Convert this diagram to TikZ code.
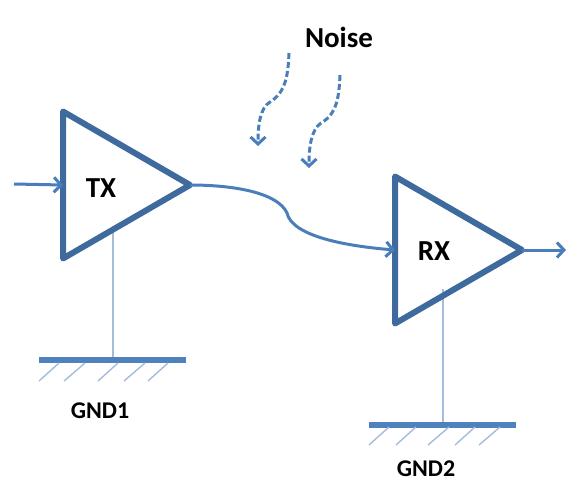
\documentclass[tikz,border=0pt]{standalone}
\usepackage{fontspec}
\setmainfont{Carlito}
\usetikzlibrary{shapes.geometric,arrows.meta}
\definecolor{ampblue}{HTML}{3F6A9E}
\definecolor{wireblue}{HTML}{4A7EBB}
\definecolor{groundblue}{HTML}{4F81BD}
\definecolor{hatchblue}{HTML}{A5BCDC}
\tikzset{
  amp/.style={draw=ampblue,line width=6pt,line join=round,shape=isosceles triangle,
    isosceles triangle stretches,minimum width=147pt,minimum height=127pt,
    inner sep=0pt,outer sep=0pt,anchor=apex},
  wire/.style={draw=wireblue,line width=3pt,-{Straight Barb[length=7pt,width=15pt,line width=3pt]}},
  noisewire/.style={wire,dash pattern=on 6pt off 3pt},
  stub/.style={draw=hatchblue,line width=1.4pt},
  ground/.style={draw=groundblue,line width=5.5pt},
  hatch/.style={draw=hatchblue,line width=1.4pt},
  lbl/.style={font=\bfseries\fontsize{#1}{#1}\selectfont,text=black,inner sep=0pt}
}
\begin{document}
\begin{tikzpicture}[x=1pt,y=-1pt]
  \useasboundingbox (0,0) rectangle (572,501);
  % Ground stubs
  \coordinate (txstub) at (113,226);
  \coordinate (gnd1) at (113,360);
  \coordinate (rxstub) at (443,289);
  \coordinate (gnd2) at (443,425);
  \draw[stub] (txstub) -- (gnd1);
  \draw[stub] (rxstub) -- (gnd2);

  % Amplifiers
  \node[amp] (tx) at (190,185) {};
  \node[amp] (rx) at (522,250) {};
  \node[lbl=29] (txlabel) at (101,188) {TX};
  \node[lbl=29] (rxlabel) at (434,251) {RX};

  % Ground bars
  \coordinate (gnd1l) at (39,360);
  \coordinate (gnd1r) at (186,360);
  \coordinate (gnd2l) at (369,425);
  \coordinate (gnd2r) at (516,425);
  \draw[ground] (gnd1l) -- (gnd1r);
  \draw[ground] (gnd2l) -- (gnd2r);
  \foreach \x/\y in {59/39,85/64,118/98,145/124,168/148} \draw[hatch] (\x,363) -- (\y,381);
  \foreach \x/\y in {389/369,416/396,449/428,475/455,500/479} \draw[hatch] (\x,427) -- (\y,445);
  \node[lbl=24] (gndonelabel) at (100,411) {GND1};
  \node[lbl=24] (gndtwolabel) at (426,469) {GND2};

  % Signal path
  \coordinate (in) at (14,184);
  \coordinate (out) at (566,250);
  \draw[wire] (in) -- (tx.lower side);
  \draw[wire] (tx.apex) .. controls (235,185) and (278,193) .. (287,213)
    .. controls (292,236) and (345,246) .. (rx.lower side);
  \draw[wire] (rx.apex) -- (out);

  % Noise
  \node[lbl=29] (noise) at (339,37) {Noise};
  \coordinate (noiseaa) at (289,53);
  \coordinate (noiseab) at (258,146);
  \coordinate (noiseba) at (340,75);
  \coordinate (noisebb) at (309,168);
  \draw[noisewire] (noiseaa) .. controls (288,75) and (286,92) .. (270,102)
    .. controls (260,108) and (258,125) .. (noiseab);
  \draw[noisewire] (noiseba) .. controls (339,97) and (337,114) .. (321,123)
    .. controls (311,130) and (309,147) .. (noisebb);
\end{tikzpicture}
\end{document}
